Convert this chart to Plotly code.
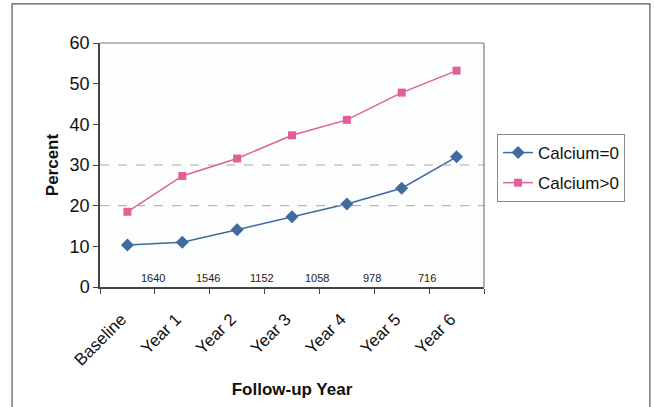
import plotly.graph_objects as go

# Follow-up time points
years = ["Baseline", "Year 1", "Year 2", "Year 3", "Year 4", "Year 5", "Year 6"]

# Percent of participants in each calcium group
calcium_zero = [10.3, 11.0, 14.1, 17.3, 20.4, 24.3, 32.0]
calcium_pos = [18.5, 27.3, 31.6, 37.3, 41.1, 47.8, 53.2]

# Number of participants followed in each interval
n_at_risk = [1640, 1546, 1152, 1058, 978, 716]

FONT = "Liberation Sans, Arial, sans-serif"
BLUE = "#40699f"
PINK = "#e0609a"

fig = go.Figure()
fig.add_trace(go.Scatter(
    x=years, y=calcium_zero, name="Calcium=0", mode="lines+markers",
    legendgroup="zero",
    line=dict(color=BLUE, width=1.5),
    marker=dict(symbol="diamond", size=10, color=BLUE),
))
fig.add_trace(go.Scatter(
    x=years, y=calcium_pos, name="Calcium>0", mode="lines+markers",
    legendgroup="pos",
    line=dict(color=PINK, width=1.5),
    marker=dict(symbol="square", size=8, color=PINK),
))

# Participant counts printed just above the x axis, between categories
for i, n in enumerate(n_at_risk):
    fig.add_annotation(
        x=i + 0.46, y=2.1, xref="x", yref="y", text=str(n), showarrow=False,
        font=dict(family=FONT, size=11, color="#222"),
    )

shapes = [
    # dashed reference lines
    dict(type="line", xref="paper", yref="y", x0=0, x1=1, y0=20, y1=20,
         line=dict(color="#a8a8a8", width=1, dash="dash")),
    dict(type="line", xref="paper", yref="y", x0=0, x1=1, y0=30, y1=30,
         line=dict(color="#a8a8a8", width=1, dash="dash")),
    # top and right edges of the plot area
    dict(type="line", xref="paper", yref="paper", x0=0, x1=1, y0=1, y1=1,
         line=dict(color="#7a7a7a", width=1.2)),
    dict(type="line", xref="paper", yref="paper", x0=1, x1=1, y0=0, y1=1,
         line=dict(color="#7a7a7a", width=1.2)),
    # outer chart frame
    dict(type="rect", xref="paper", yref="paper", x0=-0.229, x1=1.432,
         y0=-0.55, y1=1.160, line=dict(color="#555", width=1.2), layer="below"),
]

fig.update_layout(
    width=654, height=407,
    margin=dict(l=100, r=170, t=43, b=120),
    paper_bgcolor="white", plot_bgcolor="#fcfdfd",
    font=dict(family=FONT, color="#111"),
    shapes=shapes,
    showlegend=True,
    legend=dict(
        x=1.034, y=0.627, xanchor="left", yanchor="top",
        bordercolor="#8a8a8a", borderwidth=1, bgcolor="white",
        font=dict(family=FONT, size=17, color="#111"),
        itemwidth=30, tracegroupgap=5,
    ),
    xaxis=dict(
        type="category", range=[-0.5, 6.5], tickson="boundaries",
        ticks="outside", ticklen=5, tickcolor="#444",
        showline=True, linecolor="#444", linewidth=1.5,
        showgrid=False, tickangle=-45, ticklabelstandoff=14, ticklabelshift=-6,
        tickfont=dict(family=FONT, size=17, color="#111"),
        title=dict(text="<b>Follow-up Year</b>", font=dict(family=FONT, size=17), standoff=14),
    ),
    yaxis=dict(
        range=[0, 60], dtick=10, ticks="outside", ticklen=5, tickcolor="#444",
        showline=True, linecolor="#444", linewidth=1.5,
        showgrid=False, zeroline=False,
        tickfont=dict(family=FONT, size=18, color="#111"),
        title=dict(text="<b>Percent</b>", font=dict(family=FONT, size=17), standoff=7),
    ),
)

fig.write_html("out.html")
